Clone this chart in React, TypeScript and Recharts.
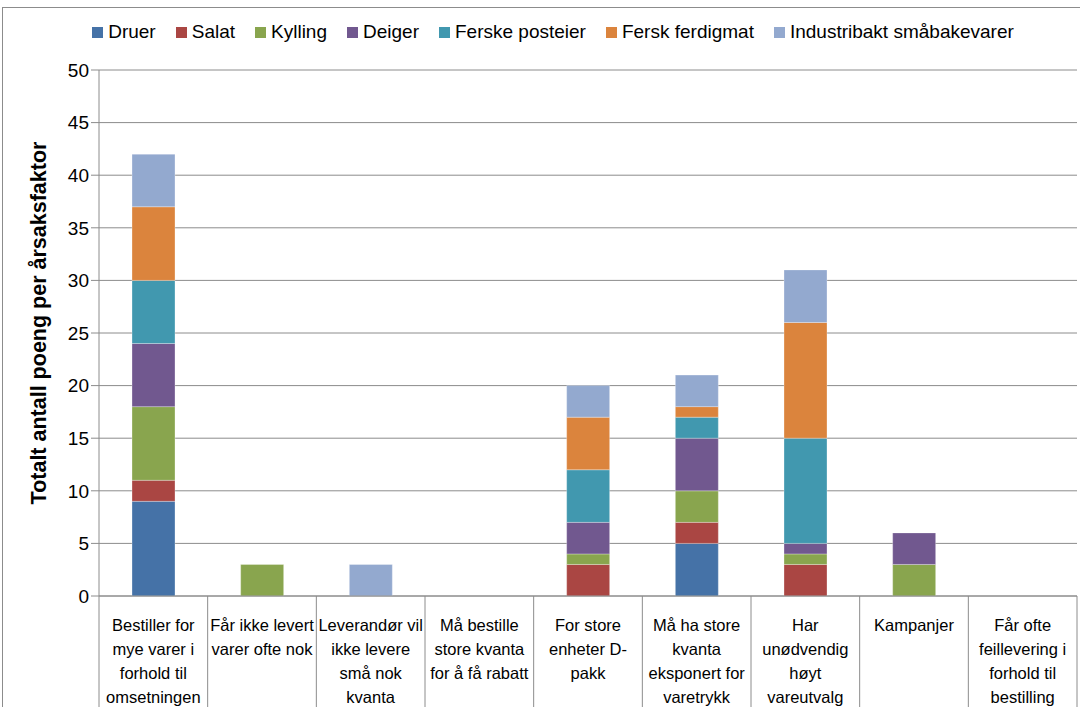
import React from "react";
import { BarChart, Bar, XAxis, YAxis, CartesianGrid } from "recharts";

const categories = [
  "Bestiller for\nmye varer i\nforhold til\nomsetningen",
  "Får ikke levert\nvarer ofte nok",
  "Leverandør vil\nikke levere\nsmå nok\nkvanta",
  "Må bestille\nstore kvanta\nfor å få rabatt",
  "For store\nenheter D-\npakk",
  "Må ha store\nkvanta\neksponert for\nvaretrykk",
  "Har\nunødvendig\nhøyt\nvareutvalg",
  "Kampanjer",
  "Får ofte\nfeillevering i\nforhold til\nbestilling",
];

const druer = [9, 0, 0, 0, 0, 5, 0, 0, 0];
const salat = [2, 0, 0, 0, 3, 2, 3, 0, 0];
const kylling = [7, 3, 0, 0, 1, 3, 1, 3, 0];
const deiger = [6, 0, 0, 0, 3, 5, 1, 3, 0];
const ferskePosteier = [6, 0, 0, 0, 5, 2, 10, 0, 0];
const ferskFerdigmat = [7, 0, 0, 0, 5, 1, 11, 0, 0];
const industribakt = [5, 0, 3, 0, 3, 3, 5, 0, 0];

const yTicks = [0, 5, 10, 15, 20, 25, 30, 35, 40, 45, 50];

const series = [
  { key: "Druer", values: druer, color: "#4572A7" },
  { key: "Salat", values: salat, color: "#AA4643" },
  { key: "Kylling", values: kylling, color: "#89A54E" },
  { key: "Deiger", values: deiger, color: "#71588F" },
  { key: "Ferske posteier", values: ferskePosteier, color: "#4198AF" },
  { key: "Fersk ferdigmat", values: ferskFerdigmat, color: "#DB843D" },
  { key: "Industribakt småbakevarer", values: industribakt, color: "#93A9CF" },
];

const data = categories.map((c, i) => {
  const row: Record<string, string | number> = { name: c };
  series.forEach((s) => (row[s.key] = s.values[i]));
  return row;
});

const FONT = "'Liberation Sans', Arial, sans-serif";
const W = 1080;
const H = 707;
const LEFT = 99;
const RIGHT = 3;
const TOP = 70;
const BOTTOM = 111;
const STEP = (W - LEFT - RIGHT) / categories.length;

function CategoryTick(props: any) {
  const { x, payload, index } = props;
  const lines = String(payload.value).split("\n");
  const axisY = H - BOTTOM;
  return (
    <g>
      <line x1={x - STEP / 2} x2={x - STEP / 2} y1={axisY} y2={H} stroke="#8c8c8c" />
      {index === categories.length - 1 && (
        <line x1={x + STEP / 2} x2={x + STEP / 2} y1={axisY} y2={H} stroke="#8c8c8c" />
      )}
      {lines.map((l, i) => (
        <text
          key={i}
          x={x}
          y={axisY + 35 + i * 24}
          textAnchor="middle"
          fontSize={16.5}
          fontFamily={FONT}
          fill="#000"
        >
          {l}
        </text>
      ))}
    </g>
  );
}

function LegendRow() {
  return (
    <div
      style={{
        position: "absolute",
        left: 0,
        top: 21,
        width: 1106,
        display: "flex",
        justifyContent: "center",
        gap: 20,
        fontFamily: FONT,
        fontSize: 19,
        color: "#000",
      }}
    >
      {series.map((s) => (
        <div key={s.key} style={{ display: "flex", alignItems: "center" }}>
          <span style={{ width: 11, height: 11, background: s.color, marginRight: 5 }} />
          <span>{s.key}</span>
        </div>
      ))}
    </div>
  );
}

export default function App() {
  return (
    <div style={{ position: "relative", width: W, height: H, overflow: "hidden", background: "#fff" }}>
      <style>{`body{margin:0}`}</style>
      <div
        style={{
          position: "absolute",
          left: 2,
          top: 7,
          width: 1200,
          height: 800,
          border: "1px solid #8c8c8c",
        }}
      />
      <LegendRow />
      <div style={{ position: "absolute", left: 0, top: 0 }}>
        <BarChart
          width={W}
          height={H}
          data={data}
          margin={{ top: TOP, right: RIGHT, bottom: 0, left: 0 }}
          barSize={43}
        >
          <CartesianGrid vertical={false} stroke="#8c8c8c" />
          <XAxis
            dataKey="name"
            interval={0}
            tickLine={false}
            axisLine={{ stroke: "#8c8c8c" }}
            tick={<CategoryTick />}
            height={BOTTOM}
          />
          <YAxis
            width={LEFT}
            domain={[0, 50]}
            ticks={yTicks}
            tickSize={8}
            tickLine={{ stroke: "#8c8c8c" }}
            axisLine={{ stroke: "#8c8c8c" }}
            tick={{ fill: "#000", fontSize: 19, fontFamily: FONT }}
            label={{
              content: ({ viewBox }: any) => {
                const cy = viewBox.y + viewBox.height / 2 - 10;
                return (
                  <text
                    x={40}
                    y={cy}
                    transform={`rotate(-90 40 ${cy})`}
                    textAnchor="middle"
                    dominantBaseline="middle"
                    fontSize={21.5}
                    fontWeight="bold"
                    fontFamily={FONT}
                    fill="#000"
                  >
                    Totalt antall poeng per årsaksfaktor
                  </text>
                );
              },
            }}
          />
          {series.map((s) => (
            <Bar
              key={s.key}
              dataKey={s.key}
              stackId="a"
              fill={s.color}
              stroke="#ffffff"
              strokeOpacity={0.5}
              strokeWidth={0.6}
              isAnimationActive={false}
            />
          ))}
        </BarChart>
      </div>
    </div>
  );
}
